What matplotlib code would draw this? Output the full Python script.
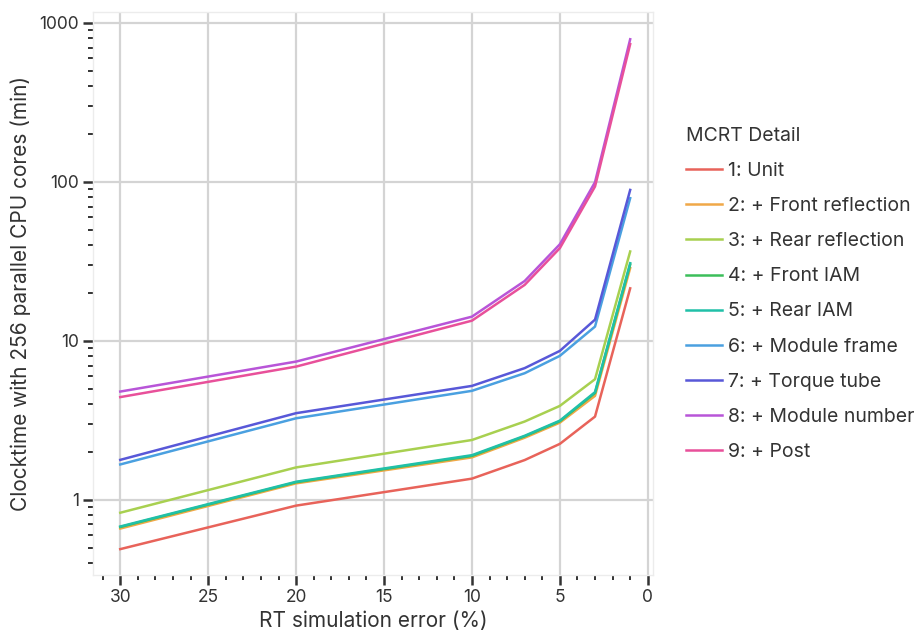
import matplotlib.pyplot as plt
from matplotlib.ticker import FixedLocator, NullFormatter, FixedFormatter

plt.rcParams['font.family'] = ['Inter', 'DejaVu Sans']

# simulation error (%) at which each run was timed
err = [30, 20, 10, 7, 5, 3, 1]

# clocktime (min) per MCRT detail level
unit = [0.49, 0.92, 1.36, 1.78, 2.25, 3.34, 21.4]
front_refl = [0.66, 1.27, 1.85, 2.46, 3.06, 4.51, 28.7]
rear_refl = [0.83, 1.60, 2.38, 3.11, 3.90, 5.74, 36.5]
front_iam = [0.675, 1.29, 1.89, 2.51, 3.12, 4.70, 30.2]
rear_iam = [0.68, 1.30, 1.91, 2.53, 3.15, 4.76, 30.8]
module_frame = [1.67, 3.26, 4.85, 6.26, 8.05, 12.3, 79]
torque_tube = [1.785, 3.51, 5.21, 6.74, 8.65, 13.6, 89]
module_number = [4.80, 7.41, 14.2, 23.8, 40.5, 99.6, 789]
post = [4.43, 6.89, 13.4, 22.5, 38.3, 93.5, 735]

labels = ["1: Unit", "2: + Front reflection", "3: + Rear reflection",
          "4: + Front IAM", "5: + Rear IAM", "6: + Module frame",
          "7: + Torque tube", "8: + Module number", "9: + Post"]
colors = ["#e8635a", "#f0a848", "#a8d050", "#3cbe5a", "#20c0a8",
          "#4aa0e0", "#5858d8", "#b855d8", "#e8509a"]
series = [unit, front_refl, rear_refl, front_iam, rear_iam,
          module_frame, torque_tube, module_number, post]

fig = plt.figure(figsize=(9.19, 6.34), dpi=100)
ax = fig.add_axes([0.1012, 0.0931, 0.6094, 0.8879])

for ys, lab, c in zip(series, labels, colors):
    ax.plot(err, ys, color=c, lw=1.8, label=lab)

ax.set_yscale('log')
ax.set_ylim(0.337, 1170)
ax.set_xlim(31.55, -0.3)

ax.yaxis.set_major_locator(FixedLocator([1, 10, 100, 1000]))
ax.yaxis.set_major_formatter(FixedFormatter(["1", "10", "100", "1000"]))
minor_y = [m * 10 ** k for k in range(-1, 3) for m in range(2, 10)]
minor_y = [v for v in minor_y if v >= 0.35]
ax.yaxis.set_minor_locator(FixedLocator(minor_y))
ax.yaxis.set_minor_formatter(NullFormatter())

ax.set_xticks([30, 25, 20, 15, 10, 5, 0])
ax.xaxis.set_minor_locator(FixedLocator([v for v in range(0, 32) if v % 5]))

ax.grid(True, which='major', color='#d4d4d4', lw=1.6)
ax.set_axisbelow(True)
for s in ax.spines.values():
    s.set_color('#ececec')
    s.set_linewidth(1.0)

ax.tick_params(which='major', length=7, width=1.8, color='#333333',
               labelsize=12.5, labelcolor='#333333', pad=3)
ax.tick_params(which='minor', length=3.5, width=1.4, color='#333333')

ax.set_xlabel("RT simulation error (%)", fontsize=15, color='#333333', labelpad=4)
ax.set_ylabel("Clocktime with 256 parallel CPU cores (min)", fontsize=15,
              color='#333333', labelpad=6)

leg = ax.legend(loc='upper left', bbox_to_anchor=(1.058, 0.796), frameon=False,
                title="MCRT Detail", fontsize=14, title_fontsize=14,
                handlelength=1.9, handletextpad=0.3, labelspacing=0.88,
                borderaxespad=0, borderpad=0)
leg._legend_box.align = 'left'
for t in leg.get_texts():
    t.set_color('#333333')
leg.get_title().set_color('#333333')

fig.savefig('out.png', dpi=100)
